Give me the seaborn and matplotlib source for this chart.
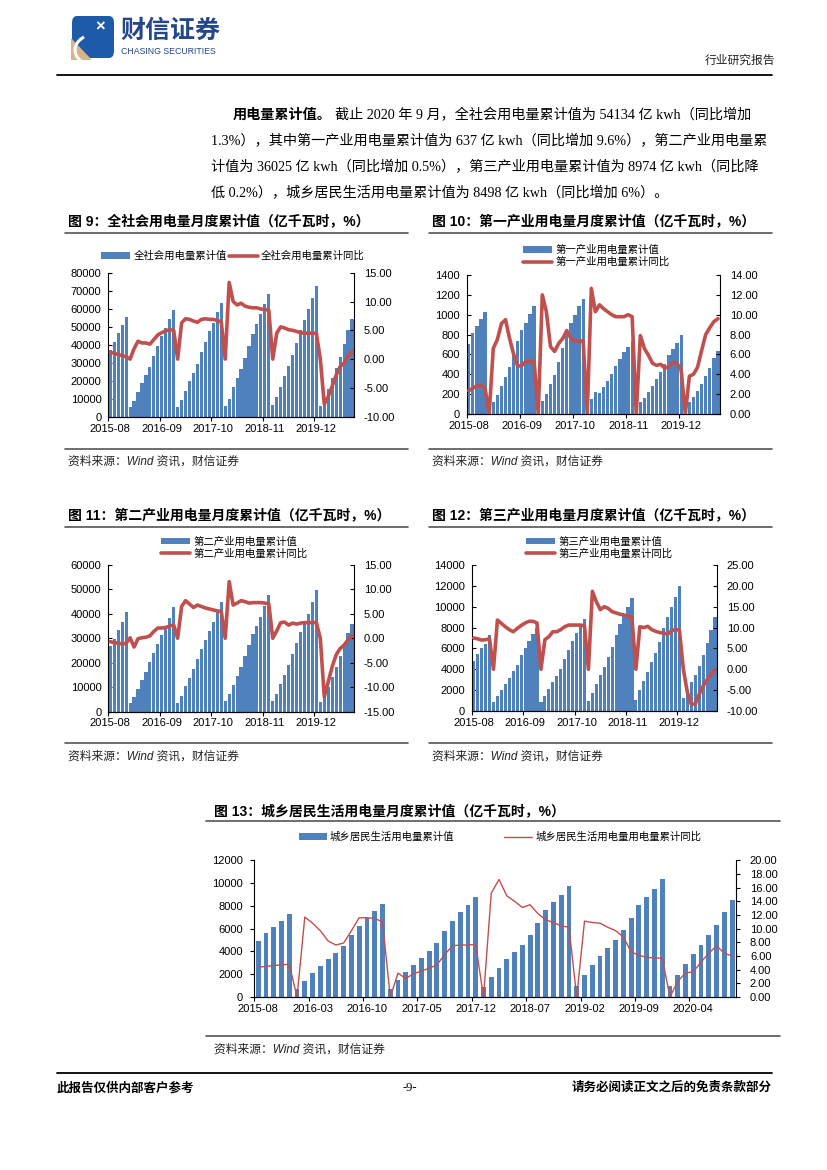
import numpy as np
import pandas as pd
import matplotlib.pyplot as plt
import seaborn as sns
from matplotlib.patches import Patch, FancyBboxPatch, Polygon, Arc
from matplotlib.lines import Line2D

sns.set_theme(style='white', rc={'axes.edgecolor': 'black', 'text.color': 'black',
                                 'xtick.color': 'black', 'ytick.color': 'black'})
plt.rcParams['font.family'] = ['Liberation Sans', 'Noto Sans CJK SC']

BLUE = '#4F81BD'
RED = '#C0504D'
W, H = 827, 1170

# 月份 2015-08 ~ 2020-09
months = pd.date_range('2015-08', periods=62, freq='MS').strftime('%Y-%m').tolist()

# 图9 全社会
total_val = [36900, 41300, 46500, 50900, 55500,
             5200, 8500, 13700, 18500, 23000, 27400, 33500, 39300, 44800, 49100, 54100, 59500,
             5200, 9300, 14100, 19800, 24100, 29100, 35700, 41300, 47400, 52200, 58000, 63300,
             5700, 10000, 16500, 21500, 26300, 32400, 39100, 45900, 51300, 57000, 62400, 68400,
             6300, 10700, 16700, 22600, 28000, 34100, 40900, 48100, 53500, 59600, 65900, 72500,
             6000, 10100, 15400, 21300, 27000, 33300, 40400, 48000, 54134]
total_yoy = [1.2, 1.0, 0.8, 0.6, 0.4,
             0, 1.8, 3.1, 2.8, 2.8, 2.6, 3.4, 4.2, 4.6, 4.9, 5.1, 5.0,
             0, 6.3, 7.0, 6.9, 6.6, 6.4, 6.9, 7.0, 6.9, 6.9, 6.7, 6.5,
             0, 13.3, 10.0, 9.4, 9.7, 9.2, 9.0, 8.9, 8.9, 8.7, 8.6, 8.5,
             0, 4.5, 5.6, 5.4, 5.1, 5.0, 4.8, 4.6, 4.5, 4.5, 4.5, 4.5,
             0, -7.8, -6.5, -4.7, -2.8, -1.3, -0.7, 0.5, 1.3]

# 图10 第一产业
pri_val = [705, 819, 886, 956, 1024,
           50, 120, 190, 280, 370, 470, 610, 740, 850, 920, 1010, 1090,
           50, 135, 200, 300, 390, 520, 665, 805, 915, 1000, 1090, 1155,
           50, 150, 220, 210, 270, 330, 400, 480, 555, 620, 670, 735,
           50, 117, 164, 225, 285, 352, 423, 503, 594, 654, 718, 795,
           50, 117, 174, 235, 302, 383, 460, 567, 637]
pri_yoy = [2.35, 2.6, 2.85, 2.9, 2.6,
           0, 6.6, 7.5, 9.1, 9.5, 7.6, 6.0, 4.8, 4.9, 5.3, 5.3, 5.3,
           0, 12.0, 10.3, 6.8, 6.3, 7.1, 7.6, 8.4, 7.6, 7.4, 7.3, 7.4,
           0, 12.65, 10.3, 11.0, 10.6, 10.3, 10.0, 9.8, 9.8, 9.8, 10.0, 9.8,
           0, 7.9, 6.6, 5.9, 5.1, 4.9, 5.0, 4.6, 4.8, 5.2, 5.1, 4.4,
           0, 3.8, 4.0, 4.7, 6.4, 8.0, 8.7, 9.3, 9.6]

# 图11 第二产业
sec_val = [26850, 29600, 33400, 36700, 40800,
           3300, 5900, 9200, 12700, 16000, 20100, 23800, 27500, 31200, 34500, 38200, 42700,
           3300, 6300, 10400, 13700, 17400, 21500, 25500, 29300, 33000, 36600, 41000, 44800,
           4100, 7000, 10800, 14500, 18100, 22700, 27100, 31800, 35100, 38800, 43300, 47800,
           4100, 7100, 11200, 14900, 18900, 23600, 28200, 32600, 36200, 40000, 44700, 49900,
           3700, 6800, 10100, 14000, 18100, 22700, 27300, 32300, 36025]
sec_yoy = [-0.7, -0.9, -1.0, -1.2, -1.0,
           0.1, -1.8, -0.1, 0.1, 0.2, 0.5, 1.4, 2.1, 2.1, 2.2, 2.5, 2.7,
           0, 6.5, 7.7, 7.0, 6.3, 6.8, 6.5, 6.2, 6.0, 5.8, 5.6, 5.5,
           0, 11.6, 6.8, 7.2, 7.7, 7.5, 7.2, 7.3, 7.3, 7.3, 7.2, 7.05,
           0, 1.5, 3.2, 3.3, 2.7, 3.1, 2.9, 3.1, 3.2, 3.2, 3.2, 3.2,
           0, -12.0, -8.9, -5.8, -3.4, -2.1, -1.4, -0.3, 0.5]

# 图12 第三产业
ter_val = [4780, 5420, 6000, 6470, 7240,
           850, 1400, 2000, 2600, 3200, 3800, 4450, 5400, 6050, 6700, 7400, 7960,
           850, 1450, 2150, 2780, 3350, 4050, 5000, 5870, 6700, 7460, 8220, 8800,
           1000, 1750, 2600, 3450, 4250, 5150, 6100, 7250, 8320, 9230, 9950, 10800,
           1080, 2030, 2850, 3720, 4680, 5560, 6650, 7930, 8970, 10000, 10900, 11990,
           1200, 2000, 2750, 3500, 4350, 5400, 6500, 7800, 8974]
ter_yoy = [7.5, 7.3, 7.0, 7.1, 7.3,
           0, 11.8, 11.0, 10.2, 9.5, 9.0, 9.8, 10.5, 11.1, 11.5, 11.5, 11.1,
           0, 7.1, 7.8, 9.0, 9.0, 9.5, 10.2, 10.6, 10.6, 10.6, 10.6, 10.4,
           0, 18.7, 16.2, 14.3, 15.0, 14.6, 13.8, 13.5, 13.2, 13.0, 12.7, 12.4,
           0, 10.2, 10.0, 10.3, 9.5, 9.1, 8.8, 8.7, 8.4, 9.2, 9.6, 9.4,
           0, -5.5, -8.4, -8.3, -6.0, -4.0, -2.5, -1.2, -0.2]

# 图13 城乡居民
res_val = [4900, 5600, 6140, 6670, 7280,
           700, 1400, 2100, 2720, 3300, 3830, 4470, 5440, 6230, 6900, 7540, 8160,
           700, 1490, 2190, 2810, 3390, 4000, 4710, 5790, 6640, 7430, 8040, 8740,
           850, 1730, 2510, 3300, 3920, 4560, 5440, 6460, 7630, 8300, 8920, 9710,
           940, 1900, 2810, 3600, 4270, 5000, 5850, 6930, 8070, 8740, 9470, 10350,
           940, 1930, 2900, 3770, 4560, 5440, 6320, 7430, 8498]
res_yoy = [4.34, 4.5, 4.6, 4.7, 4.8,
           0, 11.7, 10.8, 9.7, 8.2, 7.6, 7.9, 9.7, 11.6, 11.6, 11.5, 11.0,
           0, 3.5, 2.7, 3.4, 3.8, 4.2, 4.7, 6.2, 7.5, 7.6, 7.6, 7.7,
           0, 15.2, 17.2, 14.8, 14.0, 13.1, 13.5, 12.2, 11.3, 10.9, 10.4, 10.2,
           0, 11.1, 10.9, 10.8, 10.2, 9.7, 8.8, 6.6, 6.1, 5.8, 5.7, 5.7,
           0, 2.3, 3.5, 3.7, 5.1, 6.4, 7.5, 6.4, 6.0]

fig = plt.figure(figsize=(8.27, 11.70), dpi=100)


def fx(x):
    return x / W


def fy(y):
    return 1 - y / H


def hline(x1, x2, y, lw=1.0, color='black'):
    fig.add_artist(Line2D([fx(x1), fx(x2)], [fy(y), fy(y)], transform=fig.transFigure,
                          color=color, lw=lw))


def txt(x, y, s, **kw):
    fig.text(fx(x), fy(y), s, va='center', **kw)


def combo(box, bars, yoy, lmax, lstep, rlim, rstep, every, tdir='in', lw=2.6, bw=0.8):
    l, t, r, b = box
    ax = fig.add_axes([fx(l), fy(b), (r - l) / W, (b - t) / H])
    n = len(months)
    df = pd.DataFrame({'i': np.arange(n), 'v': bars, 'r': yoy})
    sns.barplot(data=df, x='i', y='v', color=BLUE, saturation=1, width=bw,
                errorbar=None, edgecolor='none', linewidth=0, ax=ax)
    ax2 = ax.twinx()
    sns.lineplot(data=df, x='i', y='r', color=RED, lw=lw, ax=ax2)
    for ln in ax2.lines:
        ln.set_solid_joinstyle('round')
    ax.set_ylim(0, lmax)
    ax.set_yticks(np.arange(0, lmax + 1, lstep))
    ax.set_yticklabels([f'{int(v)}' for v in np.arange(0, lmax + 1, lstep)])
    ax2.set_ylim(*rlim)
    rt = np.arange(rlim[0], rlim[1] + 0.001, rstep)
    ax2.set_yticks(rt)
    ax2.set_yticklabels([f'{v:.2f}' for v in rt])
    ax.set_xticks(np.arange(-0.5, n, every))
    ax.set_xticklabels([])
    ax.set_xticks(np.arange(0, n, every), minor=True)
    ax.set_xticklabels(months[::every], minor=True)
    ax.set_xlim(-0.5, n - 0.5)
    ax.tick_params(axis='x', which='major', direction='out', length=3, width=0.8, bottom=True)
    ax.tick_params(axis='x', which='minor', length=0, pad=5, labelsize=8, bottom=True)
    ax.tick_params(axis='y', direction=tdir, length=3, width=0.8, pad=5, labelsize=8, left=True)
    ax2.tick_params(axis='y', direction=tdir, length=3, width=0.8, pad=7, labelsize=8, right=True)
    for a in (ax, ax2):
        a.set_xlabel('')
        a.set_ylabel('')
        a.spines['top'].set_visible(False)
        for s in a.spines.values():
            s.set_linewidth(0.8)
            s.set_color('black')
    ax.spines['right'].set_visible(False)
    ax2.spines['left'].set_visible(False)
    return ax, ax2


def legend(names, anchor, loc, ncol, lw=2.6, colsp=0.2, hl=2.8):
    hs = [Patch(facecolor=BLUE, edgecolor='none'), Line2D([], [], color=RED, lw=lw)]
    fig.legend(hs, names, loc=loc, bbox_to_anchor=(fx(anchor[0]), fy(anchor[1])), ncol=ncol,
               frameon=False, fontsize=7.5, handlelength=hl, handleheight=0.55,
               handletextpad=0.3, columnspacing=colsp, labelspacing=0.15, borderpad=0)


def section(x1, x2, y_title, y_ul, y_sl, y_src, title):
    txt(x1, y_title, title, fontsize=10, fontweight='bold')
    hline(x1 - 3, x2, y_ul, lw=1.2, color='#555555')
    hline(x1 - 3, x2, y_sl, lw=1.2, color='#555555')
    txt(x1, y_src, '资料来源：Wind 资讯，财信证券', fontsize=8.5, style='italic', color='#222222')


# ---- 页眉 ----
fig.add_artist(FancyBboxPatch((fx(72), fy(58)), 42 / W, 42 / H, boxstyle='round,pad=0,rounding_size=0.006',
                              transform=fig.transFigure, facecolor='#1D5BA8', edgecolor='none'))
fig.add_artist(Polygon([(fx(71), fy(38)), (fx(71), fy(60)), (fx(92), fy(60))], closed=True,
                       transform=fig.transFigure, facecolor='#D9B38C', edgecolor='none'))
fig.add_artist(Arc((fx(100), fy(50)), 50 / W, 34 / H, theta1=150, theta2=250,
                   transform=fig.transFigure, color='white', lw=2.2))
txt(100, 27, '×', fontsize=12, color='white', ha='center', fontweight='bold')
txt(120, 31, '财信证券', fontsize=18, color='#23478A', fontweight='bold')
txt(121, 51, 'CHASING SECURITIES', fontsize=6.3, color='#23478A')
txt(775, 61, '行业研究报告', fontsize=8.5, ha='right', color='#222222')
hline(57, 772, 75, lw=1.3)

# ---- 正文 ----
body = ['截止 2020 年 9 月，全社会用电量累计值为 54134 亿 kwh（同比增加',
        '1.3%），其中第一产业用电量累计值为 637 亿 kwh（同比增加 9.6%），第二产业用电量累',
        '计值为 36025 亿 kwh（同比增加 0.5%），第三产业用电量累计值为 8974 亿 kwh（同比降',
        '低 0.2%），城乡居民生活用电量累计值为 8498 亿 kwh（同比增加 6%）。']
serif = ['Liberation Serif', 'Noto Sans CJK SC']
txt(233, 115, '用电量累计值。', fontsize=10.2, fontweight='bold', family=serif)
txt(335, 115, body[0], fontsize=10.2, family=serif)
for k, line in enumerate(body[1:]):
    txt(211, 141 + 26 * k, line, fontsize=10.2, family=serif)

# ---- 图9 ~ 图12 ----
section(68, 408, 221, 233, 449, 462, '图 9：全社会用电量月度累计值（亿千瓦时，%）')
section(432, 772, 221, 233, 449, 462, '图 10：第一产业用电量月度累计值（亿千瓦时，%）')
section(68, 408, 515, 527, 743, 757, '图 11：第二产业用电量月度累计值（亿千瓦时，%）')
section(432, 772, 515, 527, 743, 757, '图 12：第三产业用电量月度累计值（亿千瓦时，%）')

combo((108.3, 272.7, 354, 416.7), total_val, total_yoy, 80000, 10000, (-10, 15), 5, 13)
legend(['全社会用电量累计值', '全社会用电量累计同比'], (233, 256), 'center', 2)

combo((466.7, 275, 720, 414), pri_val, pri_yoy, 1400, 200, (0, 14), 2, 13)
legend(['第一产业用电量累计值', '第一产业用电量累计同比'], (518, 256), 'center left', 1)

combo((108.3, 565, 354, 711.5), sec_val, sec_yoy, 60000, 10000, (-15, 15), 5, 13)
legend(['第二产业用电量累计值', '第二产业用电量累计同比'], (156, 547.5), 'center left', 1)

combo((471.7, 565, 717, 711), ter_val, ter_yoy, 14000, 2000, (-10, 25), 5, 13)
legend(['第三产业用电量累计值', '第三产业用电量累计同比'], (521, 547.5), 'center left', 1)

# ---- 图13 ----
txt(214, 811, '图 13：城乡居民生活用电量月度累计值（亿千瓦时，%）', fontsize=10, fontweight='bold')
hline(206, 780, 821, lw=1.2, color='#555555')
hline(206, 780, 1036, lw=1.2, color='#555555')
txt(214, 1050, '资料来源：Wind 资讯，财信证券', fontsize=8.5, style='italic', color='#222222')
combo((254.3, 860.3, 736, 997), res_val, res_yoy, 12000, 2000, (0, 20), 2, 7,
      tdir='out', lw=1.0, bw=0.62)
legend(['城乡居民生活用电量累计值', '城乡居民生活用电量用电量累计同比'], (500, 837), 'center', 2,
       lw=1.0, colsp=4.8, hl=2.7)

# ---- 页脚 ----
hline(57, 772, 1073, lw=1.3)
txt(57, 1088, '此报告仅供内部客户参考', fontsize=9, fontweight='bold')
txt(410, 1088, '-9-', fontsize=9, ha='center', family=serif)
txt(772, 1088, '请务必阅读正文之后的免责条款部分', fontsize=9, fontweight='bold', ha='right')

fig.savefig('out.png', dpi=100)
